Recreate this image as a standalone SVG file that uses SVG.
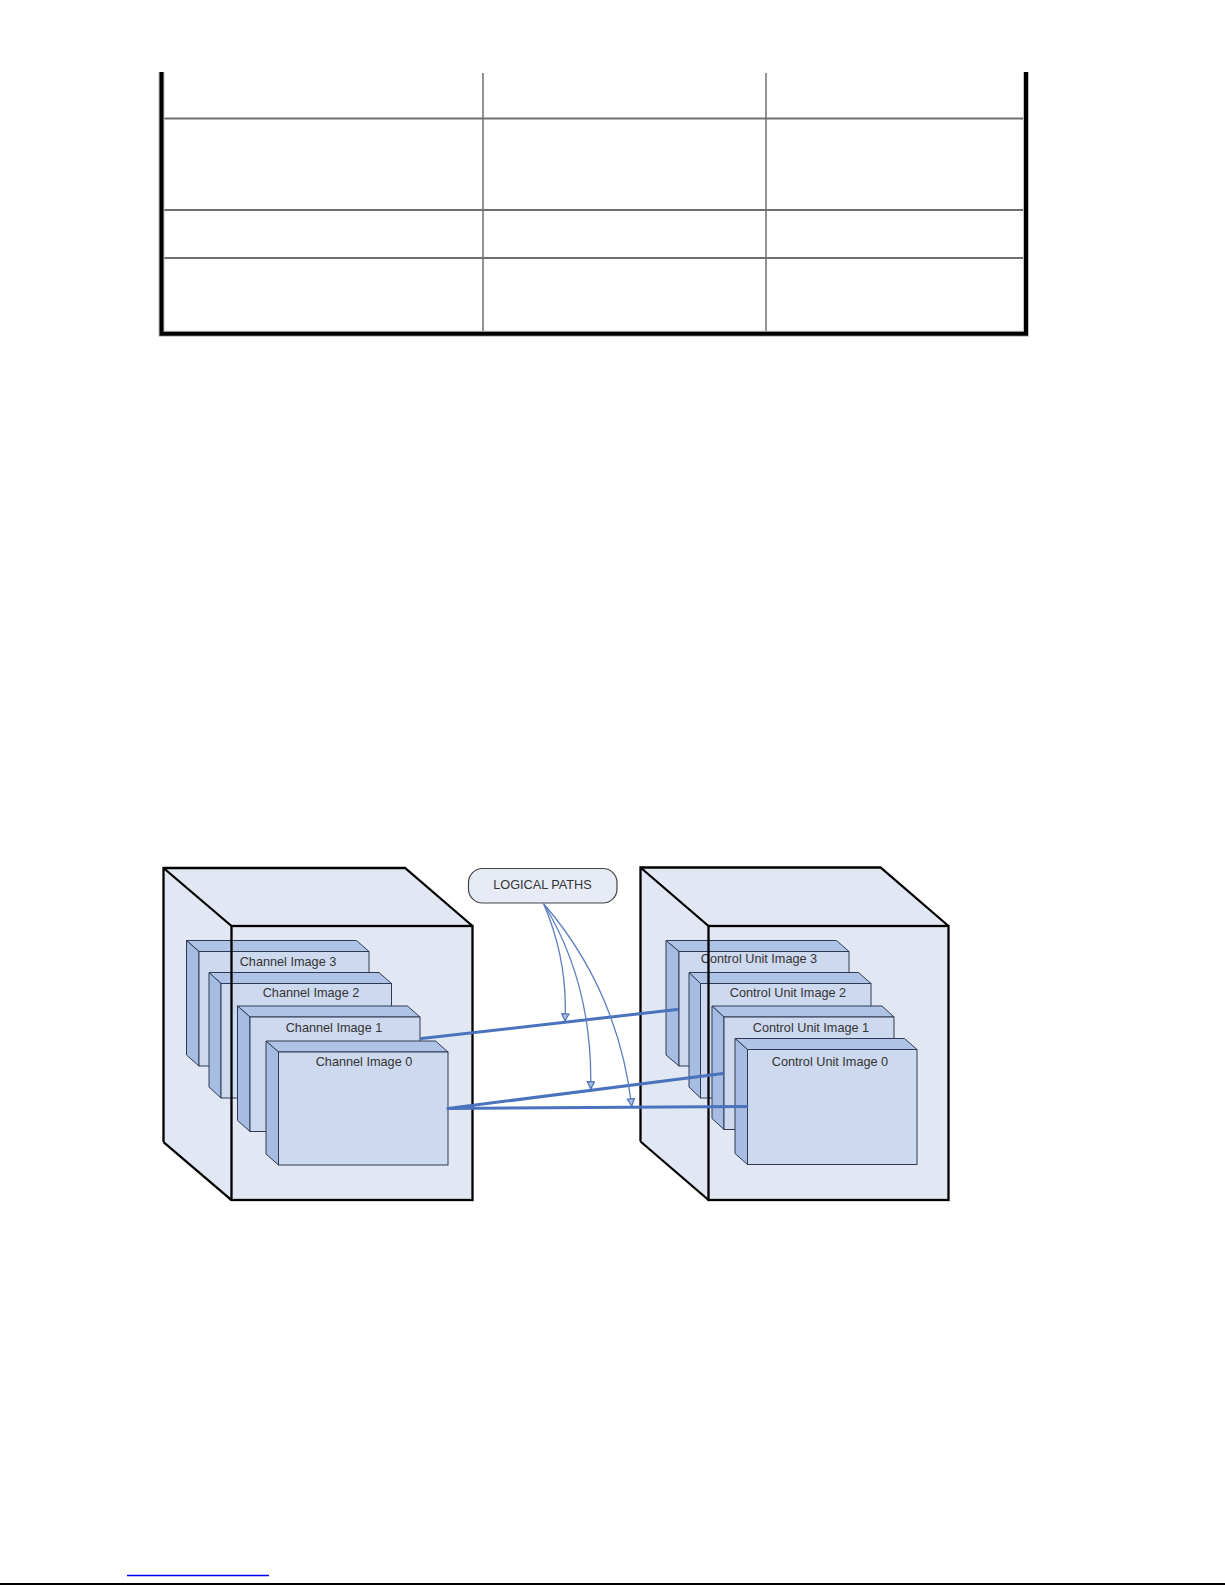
<svg xmlns="http://www.w3.org/2000/svg" width="1225" height="1585" viewBox="0 0 1225 1585">
<defs>
<style>
.tbl-b{stroke:#000;stroke-width:4;fill:none}
.tbl-h{stroke:#707070;stroke-width:2;fill:none}
.tbl-v{stroke:#5a5a5a;stroke-width:1.3;fill:none}
.cube-fill{fill:#e2e8f3;stroke:none}
.cube-edge{fill:none;stroke:#000;stroke-width:2.3;stroke-linejoin:miter}
.pf{fill:#cdd9ee;stroke:#2f3a52;stroke-width:1}
.ps{fill:#a6bce2;stroke:#2f3a52;stroke-width:1}
.pt{fill:#afc3e6;stroke:#2f3a52;stroke-width:1}
.lbl{font-family:"Liberation Sans",Arial,sans-serif;font-size:12.7px;fill:#333;text-anchor:middle}
.link{stroke:#4a72bd;stroke-width:3;fill:none;stroke-linecap:round}
.curve{stroke:#5b7fc0;stroke-width:1.3;fill:none}
</style>
<marker id="ah" viewBox="0 0 10 10" refX="9" refY="5" markerWidth="9" markerHeight="9" orient="auto" markerUnits="userSpaceOnUse">
<path d="M1,1 L9,5 L1,9 Z" fill="#a9bde3" stroke="#4a6fb5" stroke-width="1.3"/>
</marker>
</defs>
<rect width="1225" height="1585" fill="#fff"/>

<g id="table">
<line class="tbl-v" x1="483" y1="73" x2="483" y2="332"/>
<line class="tbl-v" x1="766" y1="73" x2="766" y2="332"/>
<line class="tbl-h" x1="163" y1="118.5" x2="1024" y2="118.5"/>
<line class="tbl-h" x1="163" y1="210" x2="1024" y2="210"/>
<line class="tbl-h" x1="163" y1="258" x2="1024" y2="258"/>
<path d="M161.5,72 V333.7 H1026 V72" stroke="#c0c0c0" stroke-width="6" fill="none"/>
<path class="tbl-b" d="M161.5,72 V333.7 H1026 V72"/>
</g>

<g id="cube-left">
<polygon class="cube-fill" points="163.5,868 405,868 472.5,926 472.5,1200 231.5,1200 163.5,1142"/>
</g>
<g id="channel-image-3">
<polygon class="pt" points="186.5,940.5 356.5,940.5 369,951.5 199,951.5"/>
<polygon class="ps" points="186.5,940.5 199,951.5 199,1066 186.5,1055"/>
<rect class="pf" x="199" y="951.5" width="170" height="114.5"/>
<text class="lbl" x="288" y="965.5">Channel Image 3</text>
</g>
<g id="channel-image-2">
<polygon class="pt" points="209,972.5 379,972.5 391.5,983.5 221,983.5"/>
<polygon class="ps" points="209,972.5 221,983.5 221,1098 209,1087"/>
<rect class="pf" x="221" y="983.5" width="170.5" height="114.5"/>
<text class="lbl" x="311" y="997">Channel Image 2</text>
</g>
<g id="channel-image-1">
<polygon class="pt" points="237.5,1006 407.5,1006 420,1017 250,1017"/>
<polygon class="ps" points="237.5,1006 250,1017 250,1131.5 237.5,1120.5"/>
<rect class="pf" x="250" y="1017" width="170" height="114.5"/>
<text class="lbl" x="334" y="1031.5">Channel Image 1</text>
</g>
<g id="channel-image-0">
<polygon class="pt" points="266,1041 435.5,1041 448,1052 278.5,1052"/>
<polygon class="ps" points="266,1041 278.5,1052 278.5,1165 266,1154"/>
<rect class="pf" x="278.5" y="1052" width="169.5" height="113"/>
<text class="lbl" x="364" y="1065.5">Channel Image 0</text>
</g>
<g id="cube-left-edges">
<path class="cube-edge" d="M163.5,1142 V868 H405 L472.5,926 M163.5,868 L231.5,926 M163.5,1142 L231.5,1200"/>
<rect class="cube-edge" x="231.5" y="926" width="241" height="274"/>
</g>

<g id="cube-right">
<polygon class="cube-fill" points="640.5,867.5 880.5,867.5 948.5,926 948.5,1200 708.5,1200 640.5,1141.5"/>
</g>
<g id="control-unit-image-3">
<polygon class="pt" points="666,940.5 836.5,940.5 849,951.5 679,951.5"/>
<polygon class="ps" points="666,940.5 679,951.5 679,1066 666,1055"/>
<rect class="pf" x="679" y="951.5" width="170" height="114.5"/>
<text class="lbl" x="759" y="962.5">Control Unit Image 3</text>
</g>
<g id="control-unit-image-2">
<polygon class="pt" points="689,972.5 858.5,972.5 871,983.5 700.5,983.5"/>
<polygon class="ps" points="689,972.5 700.5,983.5 700.5,1098 689,1087"/>
<rect class="pf" x="700.5" y="983.5" width="170.5" height="114.5"/>
<text class="lbl" x="788" y="997">Control Unit Image 2</text>
</g>
<g id="control-unit-image-1">
<polygon class="pt" points="712,1006 882,1006 894,1017 724,1017"/>
<polygon class="ps" points="712,1006 724,1017 724,1129.5 712,1118.5"/>
<rect class="pf" x="724" y="1017" width="170" height="112.5"/>
<text class="lbl" x="811" y="1031.5">Control Unit Image 1</text>
</g>
<g id="control-unit-image-0">
<polygon class="pt" points="735,1038.5 904.5,1038.5 917,1049.5 747.5,1049.5"/>
<polygon class="ps" points="735,1038.5 747.5,1049.5 747.5,1164.5 735,1153.5"/>
<rect class="pf" x="747.5" y="1049.5" width="169.5" height="115"/>
<text class="lbl" x="830" y="1065.5">Control Unit Image 0</text>
</g>
<g id="cube-right-edges">
<path class="cube-edge" d="M640.5,1141.5 V867.5 H880.5 L948.5,926 M640.5,867.5 L708.5,926 M640.5,1141.5 L708.5,1200"/>
<rect class="cube-edge" x="708.5" y="926" width="240" height="274"/>
</g>

<g id="logical-paths">
<rect x="468.5" y="868.5" width="148.5" height="34.5" rx="14" ry="14" fill="#e6ebf5" stroke="#444" stroke-width="1.2"/>
<text class="lbl" x="542.5" y="889">LOGICAL PATHS</text>
</g>

<g id="connectors">
<line class="link" x1="421.5" y1="1038.5" x2="677" y2="1009.5"/>
<line class="link" x1="448" y1="1108.5" x2="723" y2="1073.5"/>
<line class="link" x1="448" y1="1108.5" x2="747" y2="1106.5"/>
<path class="curve" d="M543.5,903.5 Q568,960 565,1021" marker-end="url(#ah)"/>
<path class="curve" d="M543.5,903.5 Q593,984 590.7,1089" marker-end="url(#ah)"/>
<path class="curve" d="M543.5,903.5 Q618,990 631.7,1106" marker-end="url(#ah)"/>
</g>

<g id="footer">
<line x1="127" y1="1575.5" x2="269" y2="1575.5" stroke="#0000ee" stroke-width="1.5"/>
<line x1="0" y1="1584" x2="1225" y2="1584" stroke="#000" stroke-width="2"/>
</g>
</svg>
